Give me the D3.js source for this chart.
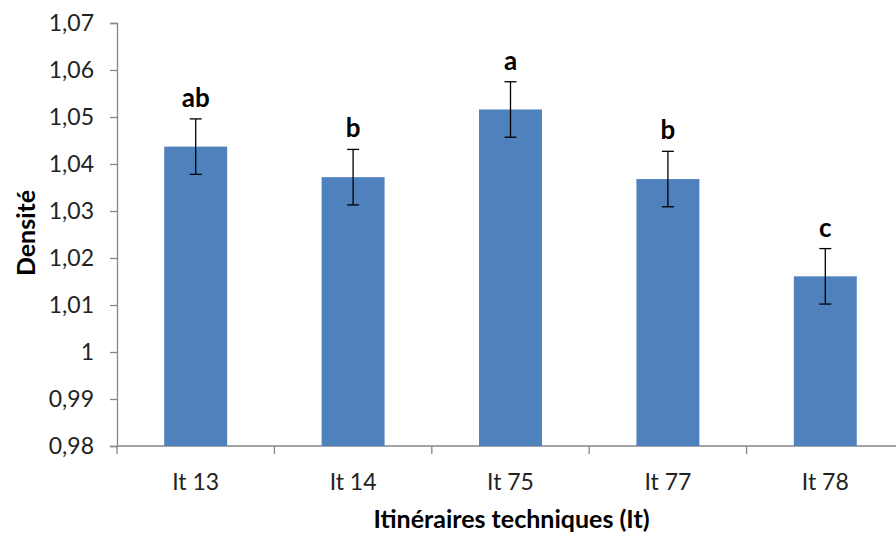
<!DOCTYPE html>
<html lang="fr">
<head>
<meta charset="UTF-8">
<title>Densité</title>
<script src="https://cdnjs.cloudflare.com/ajax/libs/d3/7.8.5/d3.min.js"></script>
<style>
  body { margin: 0; background: #fff; }
  svg { display: block; font-family: Lato, "Open Sans", sans-serif; }
</style>
</head>
<body>
<div id="chart"></div>
<script>
// data
var categories = ["It 13", "It 14", "It 75", "It 77", "It 78"];
var values = [1.0437, 1.0372, 1.0516, 1.0368, 1.0161];
var errors = [0.0059, 0.0059, 0.0059, 0.0059, 0.0059];
var letters = ["ab", "b", "a", "b", "c"];
var yTicks = [0.98, 0.99, 1, 1.01, 1.02, 1.03, 1.04, 1.05, 1.06, 1.07];

var w = 896, h = 533;
var mLeft = 117, mRight = 904, mTop = 23, mBottom = 446;

var svg = d3.select("#chart").append("svg")
    .attr("width", w)
    .attr("height", h);

var x = d3.scaleBand().domain(categories).range([mLeft, mRight]).paddingInner(0.6).paddingOuter(0.3);
var xOuter = d3.scaleBand().domain(categories).range([mLeft, mRight]);
var y = d3.scaleLinear().domain([0.98, 1.07]).range([mBottom, mTop]);

var fmt = function(d) { return String(+d.toFixed(2)).replace(".", ","); };

// y axis
var yAxis = svg.append("g")
    .attr("transform", "translate(" + mLeft + ",0)")
    .call(d3.axisLeft(y).tickValues(yTicks).tickFormat(fmt).tickSize(7).tickPadding(16));
yAxis.selectAll("text").attr("font-size", 23).attr("fill", "#222").attr("font-family", "Lato");

// x axis, ticks on band boundaries
var xAxis = svg.append("g")
    .attr("transform", "translate(0," + mBottom + ")");
xAxis.append("line")
    .attr("x1", mLeft).attr("x2", mRight).attr("y1", 0).attr("y2", 0);
xAxis.selectAll(".tk")
    .data(categories.concat(["end"]))
    .enter().append("line")
    .attr("class", "tk")
    .attr("x1", function(d, i) { return i < categories.length ? xOuter(d) : mRight; })
    .attr("x2", function(d, i) { return i < categories.length ? xOuter(d) : mRight; })
    .attr("y1", 0).attr("y2", 8);
xAxis.selectAll(".lbl")
    .data(categories)
    .enter().append("text")
    .attr("class", "lbl")
    .attr("x", function(d) { return xOuter(d) + xOuter.bandwidth() / 2; })
    .attr("y", 44)
    .attr("text-anchor", "middle")
    .attr("font-size", 23)
    .attr("fill", "#222")
    .text(function(d) { return d; });

svg.selectAll(".domain, .tick line, .tk, g line").attr("stroke", "#868686").attr("stroke-width", 1.3);

// bars
svg.selectAll(".bar")
    .data(values)
    .enter().append("rect")
    .attr("class", "bar")
    .attr("x", function(d, i) { return x(categories[i]); })
    .attr("y", function(d) { return y(d); })
    .attr("width", x.bandwidth())
    .attr("height", function(d) { return mBottom - y(d); })
    .attr("fill", "#4F81BD");

// error bars
var eb = svg.selectAll(".err")
    .data(values)
    .enter().append("g")
    .attr("class", "err")
    .attr("stroke", "#000")
    .attr("stroke-width", 1.3);
var cx = function(i) { return x(categories[i]) + x.bandwidth() / 2; };
eb.append("line")
    .attr("x1", function(d, i) { return cx(i); })
    .attr("x2", function(d, i) { return cx(i); })
    .attr("y1", function(d, i) { return y(d + errors[i]); })
    .attr("y2", function(d, i) { return y(d - errors[i]); });
eb.append("line")
    .attr("x1", function(d, i) { return cx(i) - 6; })
    .attr("x2", function(d, i) { return cx(i) + 6; })
    .attr("y1", function(d, i) { return y(d + errors[i]); })
    .attr("y2", function(d, i) { return y(d + errors[i]); });
eb.append("line")
    .attr("x1", function(d, i) { return cx(i) - 6; })
    .attr("x2", function(d, i) { return cx(i) + 6; })
    .attr("y1", function(d, i) { return y(d - errors[i]); })
    .attr("y2", function(d, i) { return y(d - errors[i]); });

// significance letters
svg.selectAll(".letter")
    .data(values)
    .enter().append("text")
    .attr("class", "letter")
    .attr("x", function(d, i) { return cx(i); })
    .attr("y", function(d, i) { return y(d + errors[i]) - 12; })
    .attr("text-anchor", "middle")
    .attr("font-size", 26)
    .attr("font-weight", "bold")
    .text(function(d, i) { return letters[i]; });

// axis titles
svg.append("text")
    .attr("transform", "translate(35,233) rotate(-90)")
    .attr("text-anchor", "middle")
    .attr("font-size", 25)
    .attr("font-weight", "bold")
    .text("Densité");

svg.append("text")
    .attr("x", (mLeft + mRight) / 2 + 1)
    .attr("y", 528)
    .attr("text-anchor", "middle")
    .attr("font-size", 25)
    .attr("font-weight", "bold")
    .text("Itinéraires techniques (It)");
</script>
</body>
</html>
